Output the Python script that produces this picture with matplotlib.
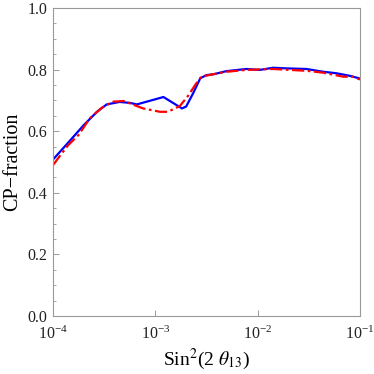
import matplotlib
matplotlib.use("Agg")
import matplotlib.pyplot as plt
from matplotlib.ticker import NullLocator, MultipleLocator, FixedLocator

plt.rcParams['font.family'] = ['Liberation Serif', 'DejaVu Serif']
plt.rcParams['mathtext.fontset'] = 'stix'

blue_x = [1.0e-4, 1.48e-4, 2.0e-4, 2.69e-4, 3.35e-4, 4.47e-4, 5.62e-4, 6.6e-4,
          1.2e-3, 1.82e-3, 2.0e-3, 2.34e-3, 2.75e-3, 3.16e-3, 3.72e-3, 4.95e-3,
          7.76e-3, 1.05e-2, 1.41e-2, 1.9e-2, 3.0e-2, 4.37e-2, 5.9e-2, 7.9e-2, 1.0e-1]
blue_y = [0.508, 0.571, 0.620, 0.663, 0.687, 0.695, 0.692, 0.687,
          0.711, 0.674, 0.680, 0.723, 0.772, 0.782, 0.785, 0.795,
          0.802, 0.799, 0.806, 0.804, 0.802, 0.793, 0.788, 0.780, 0.771]

red_x = [1.0e-4, 1.22e-4, 1.41e-4, 1.78e-4, 2.29e-4, 2.99e-4, 3.89e-4, 4.9e-4,
         7.59e-4, 1.11e-3, 1.33e-3, 1.74e-3, 2.09e-3, 2.51e-3, 2.82e-3, 3.55e-3,
         4.95e-3, 7.76e-3, 1.41e-2, 3.02e-2, 4.37e-2, 6.84e-2, 8.51e-2, 1.0e-1]
red_y = [0.490, 0.528, 0.555, 0.588, 0.642, 0.676, 0.696, 0.698,
         0.674, 0.663, 0.663, 0.682, 0.715, 0.755, 0.777, 0.784,
         0.793, 0.799, 0.802, 0.796, 0.790, 0.777, 0.777, 0.768]

x_ticks = [1e-4, 1e-3, 1e-2, 1e-1]
y_ticks = [0.0, 0.2, 0.4, 0.6, 0.8, 1.0]

fig = plt.figure(figsize=(3.74, 3.74), dpi=100)
ax = fig.add_axes([53/374, 58/374, 307/374, 308/374])

ax.plot(blue_x, blue_y, color='#0000ff', lw=1.6, solid_joinstyle='round')
ax.plot(red_x, red_y, color='#ff0000', lw=1.6, dashes=[5.5, 1.6, 1.2, 1.6])

ax.set_xscale('log')
ax.set_xlim(1e-4, 1e-1)
ax.set_ylim(0, 1)
ax.xaxis.set_major_locator(FixedLocator(x_ticks))
ax.xaxis.set_minor_locator(NullLocator())
ax.yaxis.set_major_locator(FixedLocator(y_ticks))
ax.yaxis.set_minor_locator(MultipleLocator(0.05))
ax.set_yticklabels([f"{v:.1f}" for v in y_ticks])

for s in ax.spines.values():
    s.set_color('#999999')
    s.set_linewidth(0.8)
ax.tick_params(which='both', direction='in', color='#999999', top=False, right=False,
               labelsize=11.5, labelcolor='#222222')
ax.tick_params(which='major', length=4, width=0.7)
ax.tick_params(which='minor', length=2.5, width=0.6)
ax.tick_params(axis='x', pad=7)
ax.tick_params(axis='y', pad=4)

ax.set_xlabel(r'Sin$^2$(2 $\theta_{13}$)', fontsize=14, labelpad=3)
ax.set_ylabel('CP\u2212fraction', fontsize=14.5, labelpad=4)

fig.savefig('out.png', dpi=100)
